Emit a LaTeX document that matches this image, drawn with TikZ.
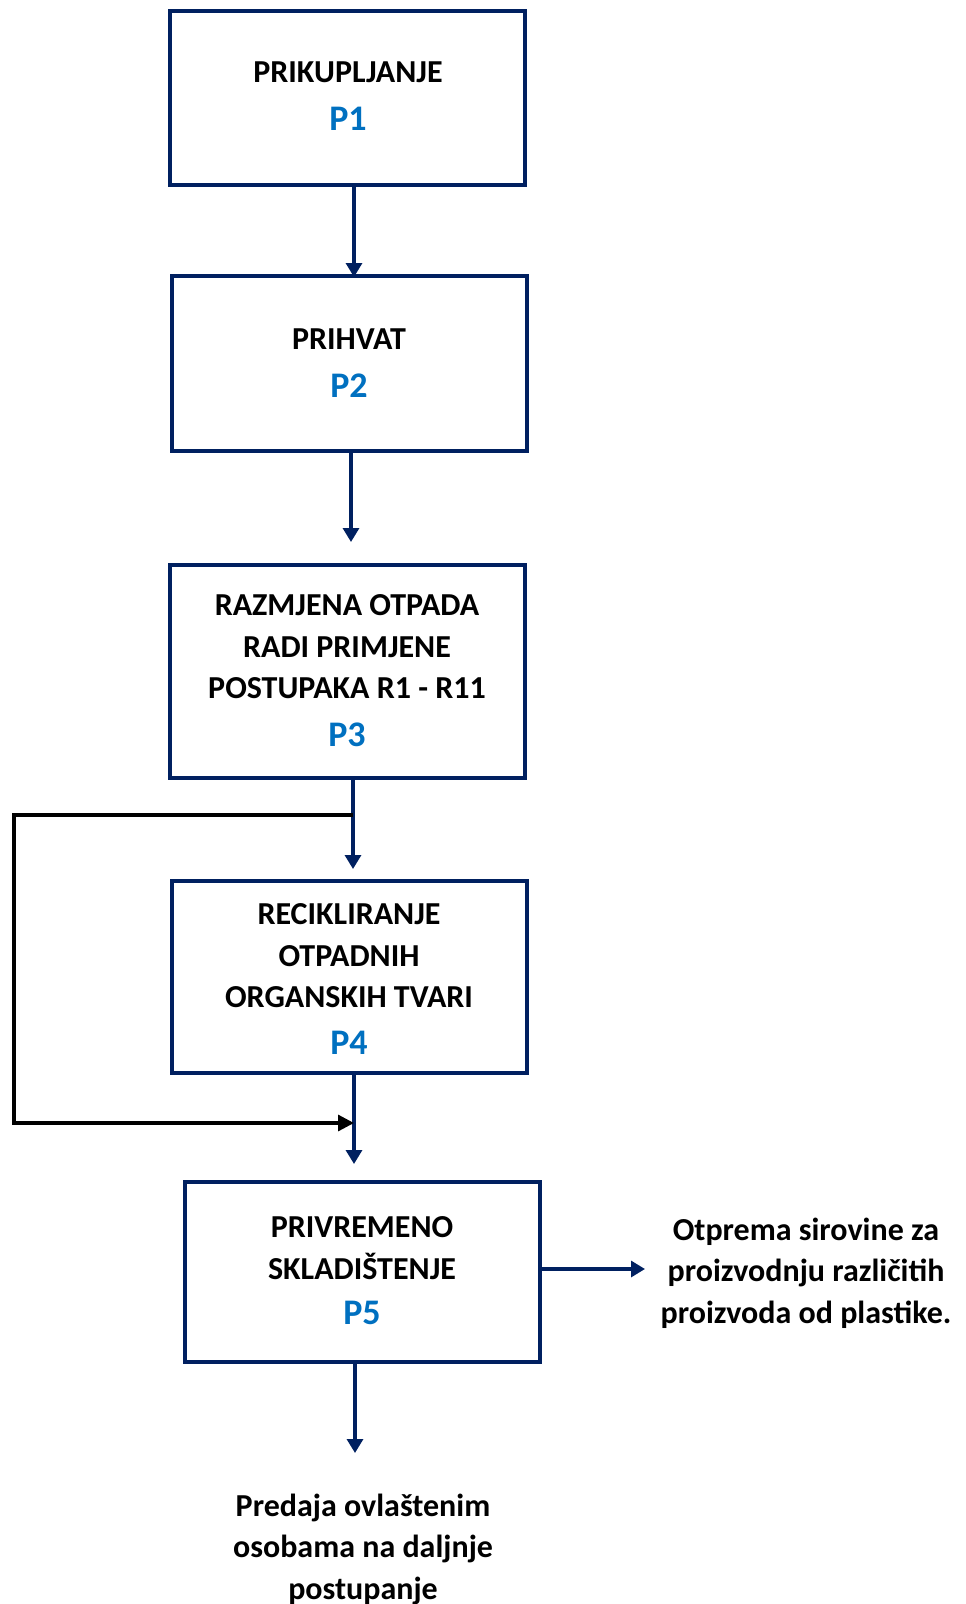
\documentclass[tikz,border=0pt]{standalone}
\usepackage{fontspec}
\setmainfont{Carlito}
\usetikzlibrary{arrows.meta}
\definecolor{navy}{HTML}{002060}
\definecolor{pblue}{HTML}{0070C0}
\begin{document}
\begin{tikzpicture}[x=1pt,y=-1pt,
  box/.style={draw=navy, line width=3.4pt, fill=white, minimum width=355pt, inner sep=0pt},
  txt/.style={align=center, inner sep=0pt, font=\bfseries\fontsize{32}{41.5}\selectfont},
  plab/.style={text=pblue, font=\bfseries\fontsize{36}{36}\selectfont},
  arr/.style={draw=navy, line width=3.2pt, -{Triangle[length=14pt,width=16pt]}},
  fb/.style={draw=black, line width=3.2pt, line join=miter, -{Triangle[length=16pt,width=16pt]}}]
\useasboundingbox (0,0) rectangle (966,1604);
% boxes
\node[box, minimum height=174pt] (b1) at (347.5,98) {};
\node[box, minimum height=175pt] (b2) at (349.5,363.5) {};
\node[box, minimum height=213pt] (b3) at (347.5,671.5) {};
\node[box, minimum height=192pt] (b4) at (349.5,977) {};
\node[box, minimum height=180pt] (b5) at (362.5,1272) {};
% texts
\node[txt] (t1) at (348,72) {PRIKUPLJANJE};
\node[plab] (p1) at (348,119) {P1};
\node[txt] (t2) at (349,339) {PRIHVAT};
\node[plab] (p2) at (349,386) {P2};
\node[txt] (t3) at (347,647) {RAZMJENA OTPADA\\RADI PRIMJENE\\POSTUPAKA R1 - R11};
\node[plab] (p3) at (347,735) {P3};
\node[txt] (t4) at (349,956) {RECIKLIRANJE\\OTPADNIH\\ORGANSKIH TVARI};
\node[plab] (p4) at (349,1043) {P4};
\node[txt] (t5) at (362,1248) {PRIVREMENO\\SKLADIŠTENJE};
\node[plab] (p5) at (362,1313) {P5};
\node[txt] (out1) at (806,1273) {Otprema sirovine za\\proizvodnju različitih\\proizvoda od plastike.};
\node[txt] (out2) at (363,1549) {Predaja ovlaštenim\\osobama na daljnje\\postupanje};
% connector end points
\coordinate (e1) at (354,277);
\coordinate (e2) at (351,542);
\coordinate (e3) at (353,869);
\coordinate (j1) at (353,815);
\coordinate (c1) at (14,815);
\coordinate (c2) at (14,1123);
\coordinate (j2) at (354,1123);
\coordinate (e4) at (354,1164);
\coordinate (e5) at (645,1269);
\coordinate (e6) at (355,1453);
% connectors
\draw[arr] (b1.south -| e1) -- (e1);
\draw[arr] (b2.south -| e2) -- (e2);
\draw[arr] (b3.south -| e3) -- (e3);
\draw[arr] (b4.south -| e4) -- (e4);
\draw[fb] (j1) -- (c1) -- (c2) -- (j2);
\draw[arr] (b5.east |- e5) -- (e5);
\draw[arr] (b5.south -| e6) -- (e6);
\end{tikzpicture}
\end{document}
